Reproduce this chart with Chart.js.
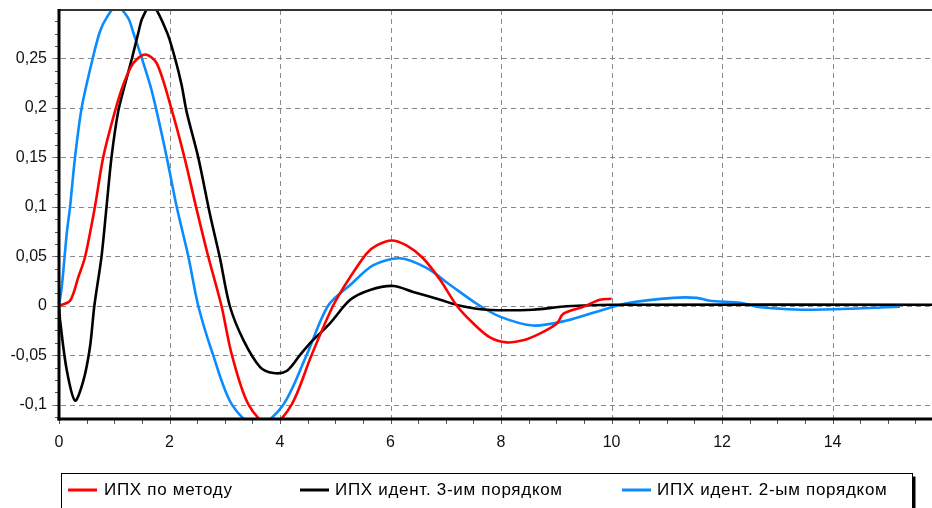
<!DOCTYPE html>
<html>
<head>
<meta charset="utf-8">
<script src="https://cdn.jsdelivr.net/npm/chart.js@4.4.1/dist/chart.umd.min.js"></script>
<style>
  html, body { margin: 0; padding: 0; background: #fff; }
  #wrap { width: 932px; height: 508px; }
</style>
</head>
<body>
<div id="wrap"><canvas id="c" width="932" height="508"></canvas></div>
<script>
// ---- data ----
const seriesNames = ['ИПХ по методу', 'ИПХ идент. 3-им порядком', 'ИПХ идент. 2-ым порядком'];
const seriesColors = ['#ff0000', '#000000', '#0a8cff'];

const redT = [0, 0.2, 0.35, 0.47, 0.65, 0.8, 1.01, 1.16, 1.34, 1.56, 1.77, 2.03, 2.27, 2.48, 2.7, 2.94, 3.13, 3.43, 3.83, 4.21, 4.57, 4.96, 5.27, 5.57, 5.75, 6.02, 6.29, 6.59, 6.9, 7.2, 7.5, 7.8, 8.1, 8.4, 8.71, 9.01, 9.13, 9.49, 9.79, 10.0];
const redV = [0, 0.005, 0.029, 0.049, 0.1, 0.15, 0.196, 0.223, 0.245, 0.254, 0.245, 0.2, 0.15, 0.1, 0.05, 0, -0.05, -0.1, -0.122, -0.1, -0.05, 0, 0.029, 0.053, 0.061, 0.066, 0.061, 0.048, 0.026, 0, -0.018, -0.032, -0.037, -0.035, -0.028, -0.018, -0.008, -0.001, 0.006, 0.007];

const blackT = [0, 0.02, 0.14, 0.29, 0.44, 0.56, 0.64, 0.77, 0.86, 0.95, 1.07, 1.19, 1.32, 1.44, 1.51, 1.68, 1.95, 2.1, 2.22, 2.31, 2.52, 2.73, 2.91, 3.09, 3.34, 3.64, 3.88, 4.12, 4.36, 4.54, 4.9, 5.27, 5.63, 6.05, 6.41, 6.9, 7.26, 7.74, 8.58, 9.19, 10.0, 15.8];
const blackV = [0, -0.015, -0.065, -0.096, -0.076, -0.042, 0, 0.05, 0.1, 0.15, 0.196, 0.223, 0.25, 0.277, 0.291, 0.305, 0.277, 0.25, 0.223, 0.196, 0.15, 0.093, 0.049, 0, -0.035, -0.062, -0.068, -0.066, -0.05, -0.038, -0.018, 0.006, 0.016, 0.02, 0.014, 0.006, 0, -0.004, -0.004, -0.0005, 0.001, 0.001];

const blueT = [0, 0.05, 0.14, 0.2, 0.29, 0.41, 0.61, 0.74, 0.86, 1.04, 1.25, 1.34, 1.5, 1.65, 1.77, 1.95, 2.13, 2.34, 2.52, 2.79, 3.13, 3.58, 4.06, 4.48, 4.87, 5.27, 5.69, 6.17, 6.66, 7.08, 7.56, 7.98, 8.58, 9.19, 9.79, 10.33, 11.12, 11.54, 11.78, 12.33, 12.63, 13.05, 13.53, 14.32, 15.22];
const blueV = [0, 0.019, 0.073, 0.1, 0.15, 0.2, 0.25, 0.277, 0.291, 0.303, 0.291, 0.277, 0.25, 0.223, 0.196, 0.15, 0.1, 0.05, 0, -0.05, -0.1, -0.122, -0.1, -0.05, 0, 0.021, 0.041, 0.048, 0.038, 0.021, 0.002, -0.011, -0.02, -0.015, -0.005, 0.003, 0.008, 0.008, 0.005, 0.003, -0.001, -0.003, -0.004, -0.003, -0.001];

const xTickValues = [0, 2, 4, 6, 8, 10, 12, 14];
const xTickLabels = ['0', '2', '4', '6', '8', '10', '12', '14'];
const yTickValues = [-0.1, -0.05, 0, 0.05, 0.1, 0.15, 0.2, 0.25];
const yTickLabels = ['-0,1', '-0,05', '0', '0,05', '0,1', '0,15', '0,2', '0,25'];
const xRange = [0, 15.8];
const yRange = [-0.1145, 0.299];

// ---- chart ----
function toPoints(ts, vs) { return ts.map((t, i) => ({ x: t, y: vs[i] })); }

const FONT = '"Liberation Sans", Arial, sans-serif';

const framePlugin = {
  id: 'frame',
  beforeDatasetsDraw(chart) {
    const { ctx, chartArea: a, scales: { x, y } } = chart;
    ctx.save();
    ctx.strokeStyle = '#8a8a8a';
    ctx.lineWidth = 1;
    ctx.setLineDash([5, 4]);
    xTickValues.forEach(v => {
      if (v === 0) return;
      const px = Math.round(x.getPixelForValue(v)) + 0.5;
      ctx.beginPath(); ctx.moveTo(px, a.top); ctx.lineTo(px, a.bottom); ctx.stroke();
    });
    yTickValues.forEach(v => {
      const py = Math.round(y.getPixelForValue(v)) + 0.5;
      ctx.beginPath(); ctx.moveTo(a.left - 7, py); ctx.lineTo(a.right, py); ctx.stroke();
    });
    ctx.restore();
  },
  afterDatasetsDraw(chart) {
    const { ctx, chartArea: a, scales: { x, y } } = chart;
    ctx.save();
    ctx.setLineDash([]);
    // minor ticks
    ctx.strokeStyle = '#555';
    ctx.lineWidth = 1;
    for (let v = 0; v <= xRange[1]; v += 0.5) {
      const px = Math.round(x.getPixelForValue(v)) + 0.5;
      ctx.beginPath(); ctx.moveTo(px, a.bottom); ctx.lineTo(px, a.bottom + 5); ctx.stroke();
    }
    for (let k = -9; k <= 23; k++) {
      const v = k * 0.0125;
      if (v < yRange[0] || v > yRange[1]) continue;
      const py = Math.round(y.getPixelForValue(v)) + 0.5;
      ctx.beginPath(); ctx.moveTo(a.left - 4, py); ctx.lineTo(a.left, py); ctx.stroke();
    }
    // top border
    ctx.strokeStyle = '#333';
    ctx.lineWidth = 2;
    ctx.beginPath(); ctx.moveTo(a.left, a.top); ctx.lineTo(a.right, a.top); ctx.stroke();
    // axes
    ctx.strokeStyle = '#000';
    ctx.lineWidth = 3;
    ctx.beginPath(); ctx.moveTo(a.left, a.top - 1); ctx.lineTo(a.left, a.bottom + 1.5); ctx.stroke();
    ctx.beginPath(); ctx.moveTo(a.left - 1.5, a.bottom); ctx.lineTo(a.right, a.bottom); ctx.stroke();

    // legend box
    const bx = 61.5, by = 473.5, bw = 851, bh = 40;
    ctx.lineWidth = 1;
    ctx.strokeStyle = '#000';
    ctx.strokeRect(bx, by, bw, bh);
    ctx.fillStyle = '#000';
    ctx.fillRect(bx + bw, by + 3, 3, bh);
    const items = [
      { sx: 68, tx: 104 },
      { sx: 300, tx: 335 },
      { sx: 622, tx: 657 }
    ];
    ctx.font = '17px ' + FONT;
    if ('letterSpacing' in ctx) ctx.letterSpacing = '0.7px';
    ctx.textBaseline = 'alphabetic';
    ctx.textAlign = 'left';
    items.forEach((it, i) => {
      ctx.strokeStyle = seriesColors[i];
      ctx.lineWidth = 3;
      ctx.beginPath(); ctx.moveTo(it.sx, 490); ctx.lineTo(it.sx + 29, 490); ctx.stroke();
      ctx.fillStyle = '#000';
      ctx.fillText(seriesNames[i], it.tx, 495);
    });
    ctx.restore();
  }
};

new Chart(document.getElementById('c'), {
  type: 'line',
  data: {
    datasets: [
      { label: seriesNames[0], data: toPoints(redT, redV), borderColor: seriesColors[0] },
      { label: seriesNames[1], data: toPoints(blackT, blackV), borderColor: seriesColors[1] },
      { label: seriesNames[2], data: toPoints(blueT, blueV), borderColor: seriesColors[2] }
    ].map(d => Object.assign(d, { borderWidth: 2.6, pointRadius: 0, fill: false, tension: 0.3 }))
  },
  options: {
    responsive: false,
    animation: false,
    devicePixelRatio: 1,
    layout: { padding: { top: 10, right: 0, bottom: 0, left: 0 } },
    plugins: { legend: { display: false }, tooltip: { enabled: false } },
    scales: {
      x: {
        type: 'linear',
        min: xRange[0], max: xRange[1],
        afterBuildTicks: s => { s.ticks = xTickValues.map(v => ({ value: v })); },
        afterFit: s => { s.height = 89; s.paddingLeft = 0; s.paddingRight = 0; },
        grid: { display: false, drawTicks: false },
        border: { display: false },
        ticks: {
          padding: 14,
          maxRotation: 0,
          autoSkip: false,
          color: '#111',
          font: { family: FONT, size: 16 },
          callback: (v) => xTickLabels[xTickValues.indexOf(v)]
        }
      },
      y: {
        type: 'linear',
        min: yRange[0], max: yRange[1],
        afterBuildTicks: s => { s.ticks = yTickValues.map(v => ({ value: v })); },
        afterFit: s => { s.width = 59; s.paddingTop = 0; s.paddingBottom = 0; },
        grid: { display: false, drawTicks: false },
        border: { display: false },
        ticks: {
          padding: 12,
          autoSkip: false,
          color: '#111',
          font: { family: FONT, size: 16 },
          callback: (v) => yTickLabels[yTickValues.indexOf(v)]
        }
      }
    }
  },
  plugins: [framePlugin]
});
</script>
</body>
</html>
